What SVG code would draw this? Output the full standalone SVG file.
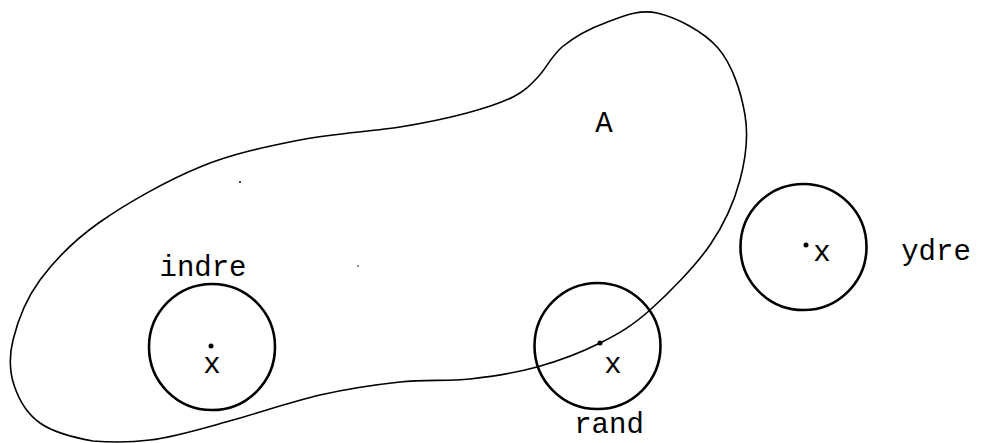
<svg xmlns="http://www.w3.org/2000/svg" width="981" height="443" viewBox="0 0 981 443">
<style>
.blob{fill:none;stroke:#000;stroke-width:1.6;stroke-linejoin:round}
.ring{fill:none;stroke:#000;stroke-width:2.6}
.dot{fill:#000}
text{font-family:"Liberation Mono","Courier New",monospace;font-size:29px;fill:#000;text-anchor:middle}
</style>
<rect width="981" height="443" fill="#fff"/>
<g id="setA">
<path class="blob" d="M657,13 C675.8,17.2 703.3,31 718,48 C732.7,65 741.3,93 745,115 C748.7,137 745.8,158.3 740,180 C734.2,201.7 725,223.3 710,245 C695,266.7 668.3,293.7 650,310 C631.7,326.3 618.8,333.5 600,343 C581.2,352.5 558.7,361 537,367 C515.3,373 492.8,376.5 470,379 C447.2,381.5 425,379.3 400,382 C375,384.7 347.8,388.7 320,395 C292.2,401.3 261.3,412.2 233,420 C204.7,427.8 173.3,437.5 150,440 C126.7,443 111.3,442.5 93,441 C74.7,437.8 53.2,432.3 40,423 C26.8,413.7 18.5,398.8 14,385 C9.5,371.2 8.7,357.5 13,340 C17.3,322.5 25.5,299.7 40,280 C54.5,260.3 73.3,240.8 100,222 C126.7,203.2 166.7,180.7 200,167 C233.3,153.3 266.7,146.7 300,140 C333.3,133.3 372.2,131.5 400,127 C427.8,122.5 448.2,118 467,113 C485.8,108 501.3,102.8 513,97 C524.7,91.2 530.2,85.2 538,77 C545.8,68.8 550.7,57.2 562,47 C573.3,37.8 588.8,28.8 605,23 C621.2,17.2 638.2,8.8 657,13 Z"/>
<text x="604" y="132">A</text>
<circle class="dot" cx="240" cy="182" r="1"/>
<circle class="dot" cx="358" cy="266" r="0.8"/>
</g>
<g id="indre">
<circle class="ring" cx="212" cy="347" r="63"/>
<circle class="dot" cx="211" cy="346" r="2.5"/>
<text x="212" y="373">x</text>
<text x="203" y="276">indre</text>
</g>
<g id="rand">
<circle class="ring" cx="597.5" cy="346" r="63"/>
<circle class="dot" cx="600" cy="343" r="2.5"/>
<text x="613" y="373">x</text>
<text x="609" y="433">rand</text>
</g>
<g id="ydre">
<circle class="ring" cx="803.5" cy="247" r="63"/>
<circle class="dot" cx="806" cy="245" r="2.5"/>
<text x="822" y="261">x</text>
<text x="936" y="260">ydre</text>
</g>
</svg>
